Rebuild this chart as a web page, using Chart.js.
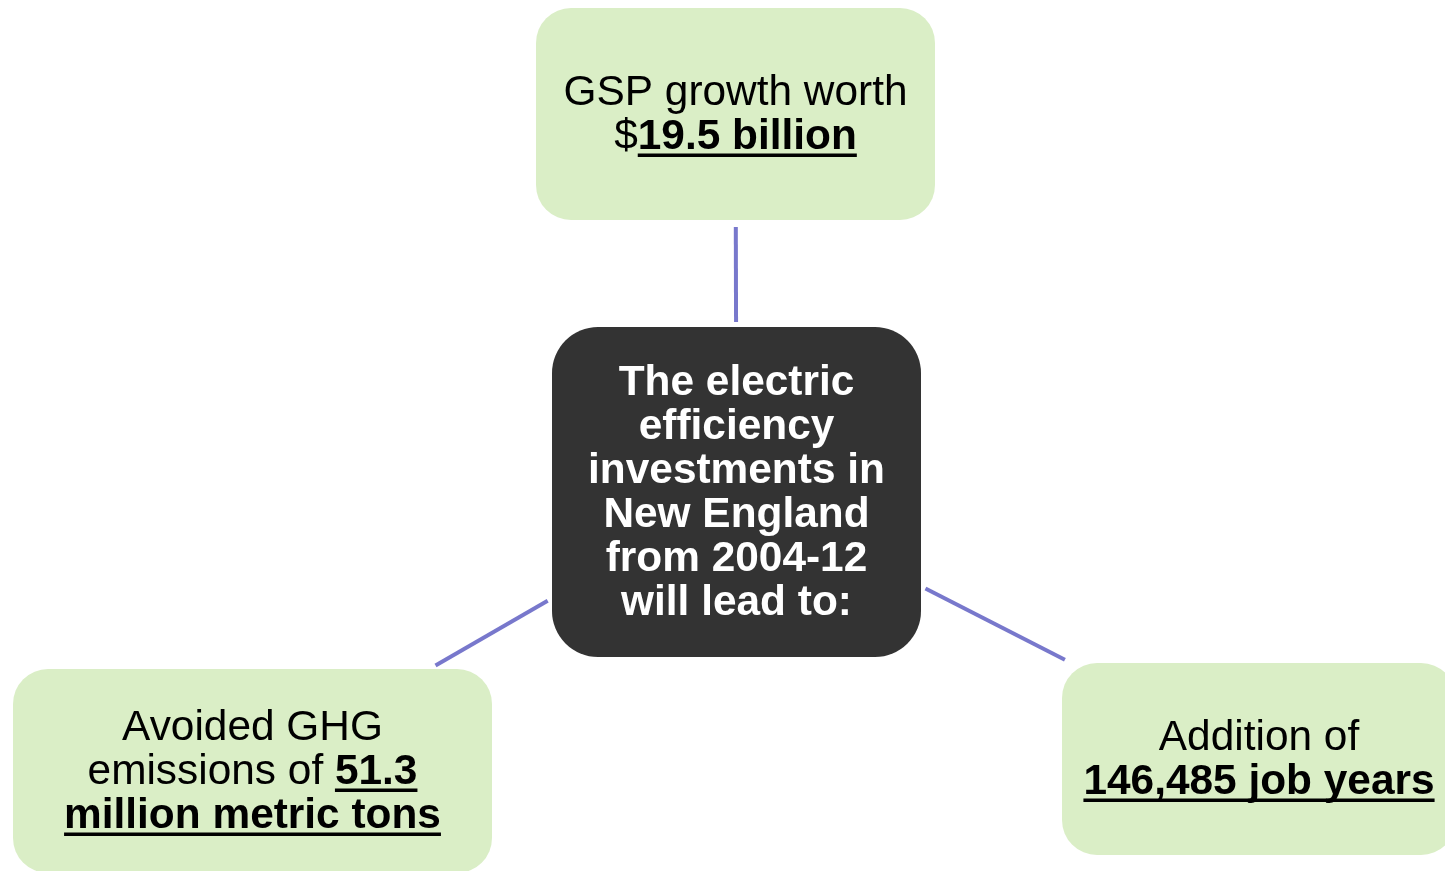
<!DOCTYPE html>
<html>
<head>
<meta charset="utf-8">
<script src="https://cdn.jsdelivr.net/npm/chart.js@4"></script>
<style>
html,body{margin:0;padding:0;background:#fff;}
#wrap{width:1445px;height:871px;position:relative;}
</style>
</head>
<body>
<div id="wrap"><canvas id="c"></canvas></div>
<script>
// ---- data ----
const nodeNames = ['hub', 'gsp', 'ghg', 'jobs'];
const nodeX = [736.5, 735.5, 252.5, 1259];
const nodeY = [492, 114, 771, 759];
const edgeFrom = [0, 0, 0];
const edgeTo = [1, 2, 3];
// text runs: [text, emphasis]  (emphasis 1 = bold + underlined)
const hubText = ['The electric', 'efficiency', 'investments in', 'New England', 'from 2004-12', 'will lead to:'];
const gspText = [[['GSP growth worth', 0]], [['$', 0], ['19.5 billion', 1]]];
const ghgText = [[['Avoided GHG', 0]], [['emissions of ', 0], ['51.3', 1]], [['million metric tons', 1]]];
const jobsText = [[['Addition of', 0]], [['146,485 job years', 1]]];

// ---- styling / geometry ----
const FONT = '"Liberation Sans", Arial, Helvetica, sans-serif';
const FS = 42.4, LH = 44;
const boxStyle = {
  hub:  {w: 369, h: 330, r: 46, fill: '#333333', color: '#ffffff', lines: hubText.map(t => [[t, 2]])},
  gsp:  {w: 399, h: 212, r: 35, fill: '#daeec6', color: '#000000', lines: gspText},
  ghg:  {w: 479, h: 204, r: 35, fill: '#daeec6', color: '#000000', lines: ghgText},
  jobs: {w: 394, h: 192, r: 35, fill: '#daeec6', color: '#000000', lines: jobsText}
};

function rrect(ctx, x, y, w, h, r) {
  ctx.beginPath();
  ctx.moveTo(x + r, y);
  ctx.lineTo(x + w - r, y);
  ctx.arcTo(x + w, y, x + w, y + r, r);
  ctx.lineTo(x + w, y + h - r);
  ctx.arcTo(x + w, y + h, x + w - r, y + h, r);
  ctx.lineTo(x + r, y + h);
  ctx.arcTo(x, y + h, x, y + h - r, r);
  ctx.lineTo(x, y + r);
  ctx.arcTo(x, y, x + r, y, r);
  ctx.closePath();
}
// parameter t along (p->q) where segment leaves rectangle centred at p
function exitT(dx, dy, hw, hh) {
  const tx = dx !== 0 ? hw / Math.abs(dx) : Infinity;
  const ty = dy !== 0 ? hh / Math.abs(dy) : Infinity;
  return Math.min(tx, ty);
}

const diagramPlugin = {
  id: 'diagram',
  beforeDatasetsDraw(chart) {
    const ctx = chart.ctx;
    const pts = chart.getDatasetMeta(0).data;
    const sx = chart.scales.x, sy = chart.scales.y;
    const kx = Math.abs(sx.getPixelForValue(1) - sx.getPixelForValue(0));
    const ky = Math.abs(sy.getPixelForValue(1) - sy.getPixelForValue(0));
    // connectors
    ctx.save();
    ctx.strokeStyle = '#7878cc';
    ctx.lineWidth = 4;
    ctx.lineCap = 'butt';
    edgeFrom.forEach((a, i) => {
      const b = edgeTo[i];
      const A = pts[a], B = pts[b];
      const sa = boxStyle[nodeNames[a]], sb = boxStyle[nodeNames[b]];
      const dx = B.x - A.x, dy = B.y - A.y;
      const len = Math.hypot(dx, dy);
      const t0 = exitT(dx, dy, sa.w * kx / 2, sa.h * ky / 2) + 5 / len;
      const t1 = 1 - exitT(-dx, -dy, sb.w * kx / 2, sb.h * ky / 2) - 7 / len;
      ctx.beginPath();
      ctx.moveTo(A.x + dx * t0, A.y + dy * t0);
      ctx.lineTo(A.x + dx * t1, A.y + dy * t1);
      ctx.stroke();
    });
    // boxes + text
    pts.forEach((p, i) => {
      const st = boxStyle[nodeNames[i]];
      const w = st.w * kx, h = st.h * ky;
      ctx.fillStyle = st.fill;
      rrect(ctx, p.x - w / 2, p.y - h / 2, w, h, st.r);
      ctx.fill();
      const n = st.lines.length;
      ctx.textBaseline = 'alphabetic';
      ctx.textAlign = 'left';
      st.lines.forEach((runs, li) => {
        const base = p.y - (n - 1) * LH / 2 + 13 + li * LH;
        const fonts = runs.map(r => (r[1] ? 'bold ' : '') + FS + 'px ' + FONT);
        const widths = runs.map((r, k) => { ctx.font = fonts[k]; return ctx.measureText(r[0]).width; });
        const total = widths.reduce((s, v) => s + v, 0);
        let x = p.x - total / 2;
        runs.forEach((r, k) => {
          ctx.font = fonts[k];
          ctx.fillStyle = st.color;
          ctx.fillText(r[0], x, base);
          if (r[1] === 1) {
            ctx.fillRect(x, base + 4.5, widths[k], 3.5);
          }
          x += widths[k];
        });
      });
    });
    ctx.restore();
  }
};

new Chart(document.getElementById('c'), {
  type: 'scatter',
  data: {
    datasets: [{
      label: 'nodes',
      data: nodeNames.map((n, i) => ({x: nodeX[i], y: nodeY[i]})),
      pointRadius: 0,
      pointHoverRadius: 0
    }]
  },
  options: {
    responsive: true,
    maintainAspectRatio: false,
    animation: false,
    layout: {padding: 0},
    events: [],
    plugins: {legend: {display: false}, tooltip: {enabled: false}},
    scales: {
      x: {type: 'linear', min: 0, max: 1445, display: false},
      y: {type: 'linear', min: 0, max: 871, reverse: true, display: false}
    }
  },
  plugins: [diagramPlugin]
});
</script>
</body>
</html>
